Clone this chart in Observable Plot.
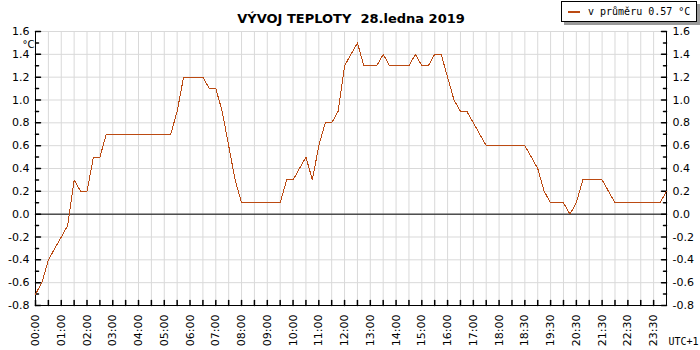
<!DOCTYPE html>
<html>
<head>
<meta charset="utf-8">
<script src="https://cdn.jsdelivr.net/npm/d3@7"></script>
<script src="https://cdn.jsdelivr.net/npm/@observablehq/plot@0.6"></script>
<style>
  body { margin: 0; background: #fff; }
  #wrap { position: relative; width: 700px; height: 350px; overflow: hidden; }
  #legend {
    position: absolute; left: 561px; top: 1px; width: 134px; height: 19px;
    border: 1px solid #000; background: #fff; box-shadow: 3px 3px 0 #9a9a9a;
    font: 10px "DejaVu Sans Mono", monospace; color: #000;
  }
  #legend .sw { position: absolute; left: 6px; top: 9px; width: 12px; height: 2px; }
  #legend .tx { position: absolute; left: 26px; top: 3px; line-height: 13px; white-space: nowrap; }
</style>
</head>
<body>
<div id="wrap"></div>
<script>
// Temperature every 15 minutes (index = quarter-hour slot)
const temps = [
  -0.7,-0.6,-0.4,-0.3,-0.2,-0.1, 0.3, 0.2, 0.2, 0.5,
   0.5, 0.7, 0.7, 0.7, 0.7, 0.7, 0.7, 0.7, 0.7, 0.7,
   0.7, 0.7, 0.9, 1.2, 1.2, 1.2, 1.2, 1.1, 1.1, 0.9,
   0.6, 0.3, 0.1, 0.1, 0.1, 0.1, 0.1, 0.1, 0.1, 0.3,
   0.3, 0.4, 0.5, 0.3, 0.6, 0.8, 0.8, 0.9, 1.3, 1.4,
   1.5, 1.3, 1.3, 1.3, 1.4, 1.3, 1.3, 1.3, 1.3, 1.4,
   1.3, 1.3, 1.4, 1.4, 1.2, 1.0, 0.9, 0.9, 0.8, 0.7,
   0.6, 0.6, 0.6, 0.6, 0.6, 0.6, 0.6, 0.5, 0.4, 0.2,
   0.1, 0.1, 0.1, 0.0, 0.1, 0.3, 0.3, 0.3, 0.3, 0.2,
   0.1, 0.1, 0.1, 0.1, 0.1, 0.1, 0.1, 0.1, 0.2
];
const xLabels = ["00:00","01:00","02:00","03:00","04:00","05:00","06:00","07:00","08:00",
  "09:00","10:00","11:00","12:00","13:00","14:00","15:00","16:00","17:00","18:00",
  "18:30","19:30","20:30","21:30","22:30","23:30"];
const yTicks = [-0.8,-0.6,-0.4,-0.2,0,0.2,0.4,0.6,0.8,1.0,1.2,1.4,1.6];
const yMinor = [-0.7,-0.5,-0.3,-0.1,0.1,0.3,0.5,0.7,0.9,1.1,1.3,1.5];
const titleText = "VÝVOJ TEPLOTY  28.ledna 2019";
const legendText = "v průměru 0.57 °C";
const unitText = "°C";
const tzText = "UTC+1";
const lineColor = "#bb4a12";
const gridColor = "#d9d9d9";

const data = temps.map((t, i) => ({slot: i, t}));
const xMax = 98;
const gridX = d3.range(0, 97, 2);          // every half hour
const labelX = d3.range(0, 97, 4);         // every labelled hour
const labelMap = new Map(labelX.map((p, i) => [p, xLabels[i]]));
const tickShape = {draw(ctx, l) { ctx.moveTo(0, 0); ctx.lineTo(0, -l); }};

const chart = Plot.plot({
  width: 700, height: 350,
  marginLeft: 35, marginRight: 34, marginTop: 31, marginBottom: 45,
  style: {fontFamily: "DejaVu Sans", fontSize: "11px", color: "#000", background: "#fff"},
  x: {type: "linear", domain: [0, xMax]},
  y: {domain: [-0.8, 1.6]},
  marks: [
    Plot.ruleX(gridX, {stroke: gridColor}),
    Plot.ruleY(yTicks, {stroke: gridColor}),
    Plot.ruleY([0], {stroke: "#000"}),
    Plot.ruleY([-0.8], {stroke: "#000"}),
    Plot.ruleX([0, xMax], {stroke: "#000"}),
    // bottom ticks
    Plot.vector(gridX, {x: d => d, y: -0.8, length: 5, rotate: 0, anchor: "start", shape: tickShape, stroke: "#000"}),
    // left/right ticks
    Plot.vector(yTicks, {x: 0, y: d => d, length: 5, rotate: 90, anchor: "start", shape: tickShape, stroke: "#000"}),
    Plot.vector(yMinor, {x: 0, y: d => d, length: 3, rotate: 90, anchor: "start", shape: tickShape, stroke: "#000"}),
    Plot.vector(yTicks, {x: xMax, y: d => d, length: 5, rotate: -90, anchor: "start", shape: tickShape, stroke: "#000"}),
    Plot.vector(yMinor, {x: xMax, y: d => d, length: 3, rotate: -90, anchor: "start", shape: tickShape, stroke: "#000"}),
    Plot.axisY({anchor: "left", ticks: yTicks, tickSize: 0, tickPadding: 6, tickFormat: d => d.toFixed(1), label: null, fontSize: 11}),
    Plot.axisY({anchor: "right", ticks: yTicks, tickSize: 0, tickPadding: 6, tickFormat: d => d.toFixed(1), label: null, fontSize: 11}),
    Plot.axisX({anchor: "bottom", ticks: labelX, tickSize: 0, tickPadding: 9, tickRotate: -90, tickFormat: d => labelMap.get(d), label: null, fontSize: 11}),
    Plot.line(data, {x: "slot", y: "t", stroke: lineColor, strokeWidth: 1, shapeRendering: "crispEdges"}),
    Plot.text([titleText], {frameAnchor: "top", dy: -18, text: d => d, fontWeight: "bold", fontSize: 13}),
    Plot.text([unitText], {frameAnchor: "top-left", dx: -13, dy: 9, text: d => d, fontSize: 10}),
    Plot.text([tzText], {frameAnchor: "bottom-right", dx: 2, dy: 39, text: d => d, textAnchor: "start", fontSize: 10, fontFamily: "DejaVu Sans Mono"})
  ]
});
const wrap = document.getElementById("wrap");
wrap.appendChild(chart);
const leg = document.createElement("div");
leg.id = "legend";
leg.innerHTML = `<span class="sw" style="background:${lineColor}"></span><span class="tx"></span>`;
leg.querySelector(".tx").textContent = legendText;
wrap.appendChild(leg);
</script>
</body>
</html>
